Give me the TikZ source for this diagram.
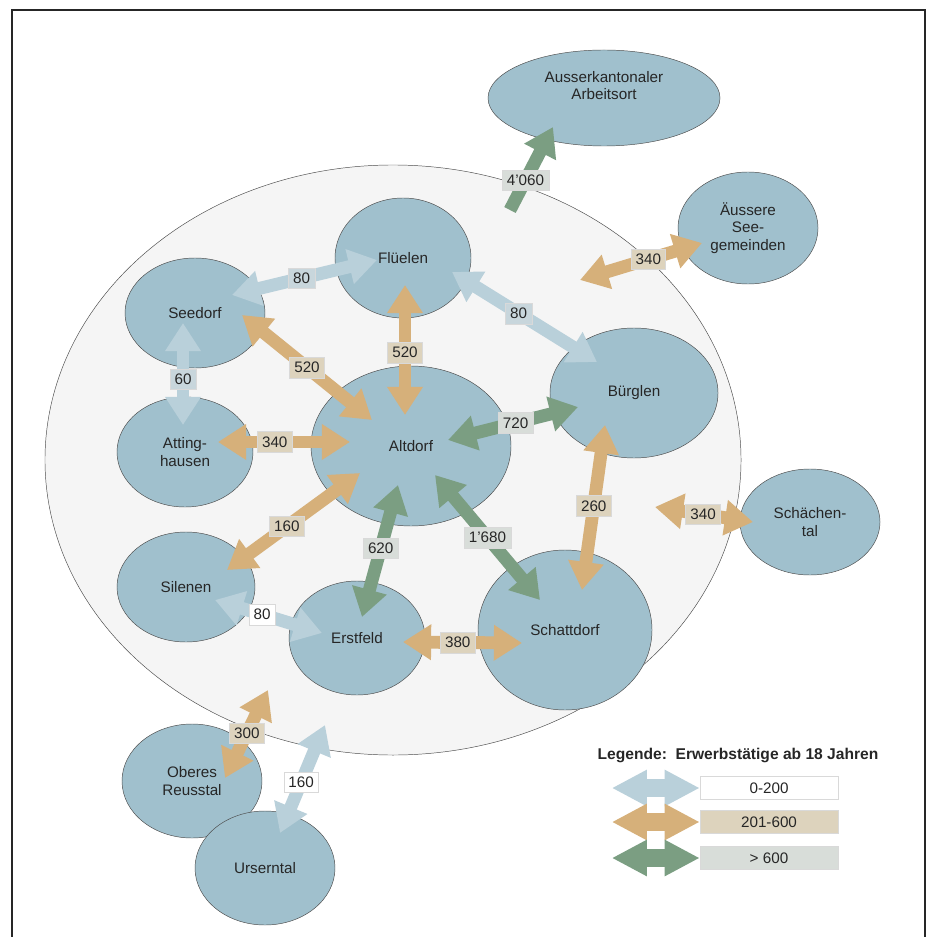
\documentclass[tikz,border=0pt]{standalone}
\usepackage{fontspec}
\setmainfont{Liberation Sans}
\usetikzlibrary{shapes.geometric, arrows.meta}
\definecolor{ortblau}{RGB}{160,192,205}
\definecolor{pfeilblau}{RGB}{185,208,218}
\definecolor{pfeilbeige}{RGB}{214,176,122}
\definecolor{pfeilgruen}{RGB}{123,158,130}
\definecolor{wertblau}{RGB}{200,214,220}
\definecolor{wertbeige}{RGB}{221,211,189}
\definecolor{wertgruen}{RGB}{216,221,217}

\begin{document}
\begin{tikzpicture}[x=0.03cm, y=-0.03cm,
  every node/.style={font=\fontsize{13}{15}\selectfont, text=black!85},
  ort/.style={ellipse, draw=black!70, fill=ortblau, inner sep=0pt, align=center},
  fluss/.style={line width=11pt, >={Triangle[length=24pt,width=29pt]}, <->},
  wert/.style={rectangle, draw=black!15, line width=0.4pt, inner xsep=4pt, inner ysep=0pt, minimum height=0.62cm},
  legende/.style={line width=15pt, >={Triangle[length=30pt,width=29pt]}, <->},
  legendbox/.style={rectangle, draw=black!15, line width=0.4pt, minimum width=4.14cm, minimum height=0.69cm}]

\useasboundingbox (0,0) rectangle (926,937);
\draw[line width=1.3pt, black!85] (12,937) -- (12,10) -- (925,10) -- (925,937);

\node[ellipse, draw=black!70, fill=black!4, minimum width=20.88cm, minimum height=17.7cm] (Uri) at (393,460) {};

\node[ort, minimum width=6.96cm, minimum height=2.88cm] (Ausserkant) at (604,98) {Ausserkantonaler\\Arbeitsort\\[6pt]};
\node[ort, minimum width=4.2cm, minimum height=3.36cm] (Seegemeinden) at (748,228) {Äussere\\See-\\gemeinden};
\node[ort, minimum width=4.08cm, minimum height=3.6cm] (Flueelen) at (403,258) {Flüelen};
\node[ort, minimum width=4.2cm, minimum height=3.3cm] (Seedorf) at (195,313) {Seedorf};
\node[ort, minimum width=5.04cm, minimum height=3.9cm] (Buerglen) at (634,393) {Bürglen};
\node[ort, minimum width=6.0cm, minimum height=4.8cm] (Altdorf) at (411,446) {Altdorf};
\node[ort, minimum width=4.08cm, minimum height=3.3cm] (Attinghausen) at (185,452) {Atting-\\hausen};
\node[ort, minimum width=4.14cm, minimum height=3.3cm] (Silenen) at (186,587) {Silenen};
\node[ort, minimum width=4.08cm, minimum height=3.42cm] (Erstfeld) at (357,638) {Erstfeld};
\node[ort, minimum width=5.22cm, minimum height=4.8cm] (Schattdorf) at (565,630) {Schattdorf};
\node[ort, minimum width=4.2cm, minimum height=3.18cm] (Schaechental) at (810,522) {Schächen-\\tal};
\node[ort, minimum width=4.2cm, minimum height=3.42cm] (Reusstal) at (192,781) {Oberes\\Reusstal};
\node[ort, minimum width=4.2cm, minimum height=3.42cm] (Urserntal) at (265,868) {Urserntal};

\draw[fluss, draw=pfeilblau] ([shift={(37,-18)}]Seedorf.center) -- ([shift={(-26,2)}]Flueelen.center) node[wert, fill=wertblau, pos=0.48] {80};
\draw[fluss, draw=pfeilbeige] ([shift={(47,2)}]Seedorf.center) -- ([shift={(-39,-26)}]Altdorf.center) node[wert, fill=wertbeige, pos=0.5] {520};
\draw[fluss, draw=pfeilbeige] ([shift={(2,27)}]Flueelen.center) -- ([shift={(-6,-31)}]Altdorf.center) node[wert, fill=wertbeige, pos=0.52] {520};
\draw[fluss, draw=pfeilblau] ([shift={(49,14)}]Flueelen.center) -- ([shift={(-37,-31)}]Buerglen.center) node[wert, fill=wertblau, pos=0.46] {80};
\draw[fluss, draw=pfeilblau] ([shift={(-12,10)}]Seedorf.center) -- ([shift={(-2,-27)}]Attinghausen.center) node[wert, fill=wertblau, pos=0.55] {60};
\draw[fluss, draw=pfeilbeige] ([shift={(33,-10)}]Attinghausen.center) -- ([shift={(-61,-4)}]Altdorf.center) node[wert, fill=wertbeige, pos=0.43] {340};
\draw[fluss, draw=pfeilgruen] ([shift={(37,-6)}]Altdorf.center) -- ([shift={(-56,14)}]Buerglen.center) node[wert, fill=wertgruen, pos=0.52] {720};
\draw[fluss, draw=pfeilbeige] ([shift={(-51,27)}]Altdorf.center) -- ([shift={(41,-17)}]Silenen.center) node[wert, fill=wertbeige, pos=0.55] {160};
\draw[fluss, draw=pfeilgruen] ([shift={(-13,39)}]Altdorf.center) -- ([shift={(5,-21)}]Erstfeld.center) node[wert, fill=wertgruen, pos=0.48] {620};
\draw[fluss, draw=pfeilgruen] ([shift={(24,29)}]Altdorf.center) -- ([shift={(-25,-30)}]Schattdorf.center) node[wert, fill=wertgruen, pos=0.5] {1'680};
\draw[fluss, draw=pfeilbeige] ([shift={(-29,32)}]Buerglen.center) -- ([shift={(17,-40)}]Schattdorf.center) node[wert, fill=wertbeige, pos=0.49] {260};
\draw[fluss, draw=pfeilblau] ([shift={(29,13)}]Silenen.center) -- ([shift={(-35,-5)}]Erstfeld.center) node[wert, fill=white, pos=0.44] {80};
\draw[fluss, draw=pfeilbeige] ([shift={(46,4)}]Erstfeld.center) -- ([shift={(-43,13)}]Schattdorf.center) node[wert, fill=wertbeige, pos=0.46] {380};

\draw[fluss, draw=pfeilbeige] ([shift={(-155,-15)}]Schaechental.center) -- ([shift={(-57,0)}]Schaechental.center) node[wert, fill=wertbeige, pos=0.49] {340};
\draw[fluss, draw=pfeilbeige] ([shift={(-168,52)}]Seegemeinden.center) -- ([shift={(-46,15)}]Seegemeinden.center) node[wert, fill=wertbeige, pos=0.56] {340};
\draw[fluss, ->, draw=pfeilgruen] ([shift={(-94,112)}]Ausserkant.center) -- ([shift={(-51,29)}]Ausserkant.center) node[wert, fill=wertgruen, pos=0.36] {4'060};
\draw[fluss, draw=pfeilbeige] ([shift={(33,-3)}]Reusstal.center) -- ([shift={(76,-91)}]Reusstal.center) node[wert, fill=wertbeige, pos=0.51] {300};
\draw[fluss, draw=pfeilblau] ([shift={(15,-35)}]Urserntal.center) -- ([shift={(60,-143)}]Urserntal.center) node[wert, fill=white, pos=0.47] {160};

\node[font=\bfseries\fontsize{13.3}{15}\selectfont] (legtitel) at (738,755) {Legende:\ \ Erwerbstätige ab 18 Jahren};
\node[legendbox, fill=white] (lg1) at (769,788) {0-200};
\node[legendbox, fill=wertbeige] (lg2) at (769,822) {201-600};
\node[legendbox, fill=wertgruen] (lg3) at (769,858) {> 600};

\draw[legende, draw=pfeilblau] ([shift={(-88,0)}]lg1.west) -- (lg1.west);
\draw[legende, draw=pfeilbeige] ([shift={(-88,0)}]lg2.west) -- (lg2.west);
\draw[legende, draw=pfeilgruen] ([shift={(-88,0)}]lg3.west) -- (lg3.west);

\end{tikzpicture}
\end{document}
